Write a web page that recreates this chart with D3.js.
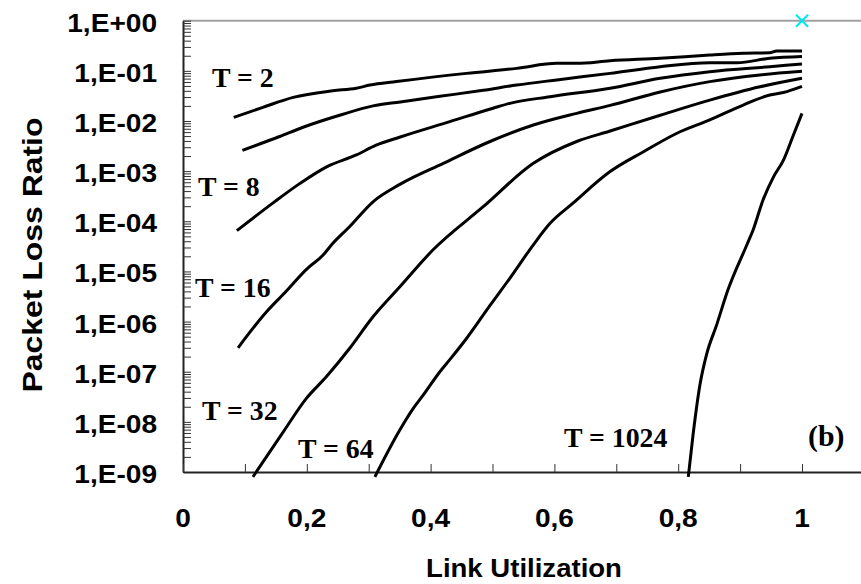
<!DOCTYPE html>
<html>
<head>
<meta charset="utf-8">
<script src="https://cdn.jsdelivr.net/npm/d3@7"></script>
<style>
  body { margin: 0; background: #fff; }
  svg { display: block; }
</style>
</head>
<body>
<svg id="chart" width="861" height="584"></svg>
<script>
// values (link utilization -> packet loss ratio)
var t2_u    = [0.082, 0.129, 0.178, 0.242, 0.280, 0.302, 0.345, 0.458, 0.539, 0.604, 0.636, 0.690, 0.771, 0.851, 0.905, 0.948, 0.959, 1.0];
var t2_plr  = [1.18e-2, 1.87e-2, 2.96e-2, 4.0e-2, 4.5e-2, 5.2e-2, 6.1e-2, 8.9e-2, 0.112, 0.141, 0.141, 0.159, 0.178, 0.207, 0.224, 0.230, 0.249, 0.249];

var t4_u    = [0.096, 0.156, 0.194, 0.253, 0.307, 0.351, 0.415, 0.485, 0.539, 0.604, 0.690, 0.771, 0.851, 0.895, 0.948, 1.0];
var t4_plr  = [2.6e-3, 4.9e-3, 7.5e-3, 1.3e-2, 2.0e-2, 2.4e-2, 3.1e-2, 4.1e-2, 5.2e-2, 6.6e-2, 8.9e-2, 0.121, 0.145, 0.145, 0.178, 0.193];

var t8_u    = [0.087, 0.145, 0.189, 0.232, 0.280, 0.312, 0.351, 0.431, 0.501, 0.528, 0.593, 0.690, 0.771, 0.851, 0.948, 1.0];
var t8_plr  = [6.5e-5, 2.3e-4, 5.7e-4, 1.22e-3, 2.1e-3, 3.3e-3, 4.8e-3, 9.7e-3, 1.8e-2, 2.25e-2, 3.05e-2, 4.5e-2, 7.1e-2, 9.6e-2, 0.121, 0.137];

var t16_u   = [0.089, 0.135, 0.162, 0.202, 0.226, 0.240, 0.269, 0.307, 0.351, 0.4205, 0.496, 0.566, 0.636, 0.690, 0.771, 0.851, 0.932, 1.0];
var t16_plr = [3.0e-7, 1.57e-6, 3.5e-6, 1.18e-5, 2.1e-5, 3.4e-5, 7.8e-5, 2.45e-4, 5.5e-4, 1.43e-3, 3.9e-3, 8.3e-3, 1.42e-2, 2.05e-2, 3.8e-2, 6.1e-2, 8.3e-2, 9.8e-2];

var t32_u   = [0.113, 0.162, 0.199, 0.2315, 0.269, 0.307, 0.350, 0.404, 0.485, 0.566, 0.636, 0.690, 0.771, 0.851, 0.932, 1.0];
var t32_plr = [8.0e-10, 6.3e-9, 2.9e-8, 7.9e-8, 2.9e-7, 1.25e-6, 4.9e-6, 2.7e-5, 1.95e-4, 1.43e-3, 3.9e-3, 6.3e-3, 1.3e-2, 2.6e-2, 4.8e-2, 7.1e-2];

var t64_u   = [0.310, 0.350, 0.372, 0.388, 0.415, 0.431, 0.458, 0.496, 0.528, 0.566, 0.593, 0.630, 0.690, 0.744, 0.798, 0.851, 0.905, 0.948, 0.970, 1.0];
var t64_plr = [8e-10, 6.8e-9, 1.86e-8, 3.4e-8, 1.0e-7, 1.74e-7, 4.6e-7, 2.1e-6, 7.3e-6, 3.4e-5, 9.1e-5, 2.3e-4, 9.8e-4, 2.44e-3, 5.7e-3, 1.05e-2, 2.08e-2, 3.3e-2, 3.7e-2, 4.9e-2];

var t1024_u   = [0.8163, 0.8244, 0.835, 0.846, 0.862, 0.880, 0.911, 0.921, 0.937, 0.954, 0.970, 0.986, 1.0];
var t1024_plr = [8e-10, 6.1e-9, 5.4e-8, 2.25e-7, 8.5e-7, 4.15e-6, 3.4e-5, 6.7e-5, 2.65e-4, 7.7e-4, 1.66e-3, 5.2e-3, 1.42e-2];

var marker_u   = [1.0];
var marker_plr = [1.0];

var xTickLabels = ["0", "0,2", "0,4", "0,6", "0,8", "1"];
var yTickLabels = ["1,E-09", "1,E-08", "1,E-07", "1,E-06", "1,E-05", "1,E-04", "1,E-03", "1,E-02", "1,E-01", "1,E+00"];

function draw() {
    var svg = d3.select("#chart");
    var sx = 1.08; // the picture's text is a bit wide

    var plotLeft = 183, plotTop = 20.7, plotBottom = 472;
    var x = d3.scaleLinear().domain([0, 1.2]).range([plotLeft, plotLeft + 1.2 * 619]);
    var y = d3.scaleLog().domain([1e-9, 1]).range([plotBottom, plotTop]);

    // top gray border line
    svg.append("line")
       .attr("x1", plotLeft).attr("x2", 861)
       .attr("y1", y(1)).attr("y2", y(1))
       .attr("stroke", "#a0a0a0").attr("stroke-width", 2);

    // y minor ticks (log), inward
    var yMinor = [];
    for (var e = -9; e < 0; e++) {
        for (var m = 1; m < 10; m++) yMinor.push(m * Math.pow(10, e));
    }
    yMinor.push(1);
    svg.append("g")
       .attr("transform", "translate(" + plotLeft + ",0)")
       .call(d3.axisLeft(y).tickValues(yMinor).tickSize(-8).tickSizeOuter(0).tickFormat(""))
       .call(function(g) {
           g.select(".domain").attr("stroke", "#222").attr("stroke-width", 2);
           g.selectAll(".tick line").attr("stroke", "#333");
       });

    // x ticks every 0.1, inward
    svg.append("g")
       .attr("transform", "translate(0," + plotBottom + ")")
       .call(d3.axisBottom(x).tickValues(d3.range(0, 1.21, 0.1)).tickSize(-8).tickSizeOuter(0).tickFormat(""))
       .call(function(g) {
           g.select(".domain").attr("stroke", "#222").attr("stroke-width", 2);
           g.selectAll(".tick line").attr("stroke", "#333");
       });

    // tick labels
    var yDecades = d3.range(-9, 1);
    svg.selectAll(".ylab").data(yDecades).enter().append("text")
       .attr("class", "ylab")
       .attr("transform", function(d) { return "translate(157," + (y(Math.pow(10, d)) + 11) + ") scale(" + sx + ",1)"; })
       .attr("text-anchor", "end")
       .style("font-family", "Liberation Sans, Arial, sans-serif")
       .style("font-weight", "bold").style("font-size", "26px")
       .text(function(d, i) { return yTickLabels[i]; });

    var xMajor = [0, 0.2, 0.4, 0.6, 0.8, 1.0];
    svg.selectAll(".xlab").data(xMajor).enter().append("text")
       .attr("class", "xlab")
       .attr("transform", function(d) { return "translate(" + x(d) + ",527) scale(" + sx + ",1)"; })
       .attr("text-anchor", "middle")
       .style("font-family", "Liberation Sans, Arial, sans-serif")
       .style("font-weight", "bold").style("font-size", "26px")
       .text(function(d, i) { return xTickLabels[i]; });

    // axis titles
    svg.append("text")
       .attr("transform", "translate(524,577) scale(1.06,1)")
       .attr("text-anchor", "middle")
       .style("font-family", "Liberation Sans, Arial, sans-serif")
       .style("font-weight", "bold").style("font-size", "26px")
       .text("Link Utilization");

    svg.append("text")
       .attr("transform", "translate(42,255) rotate(-90) scale(1.14,1)")
       .attr("text-anchor", "middle")
       .style("font-family", "Liberation Sans, Arial, sans-serif")
       .style("font-weight", "bold").style("font-size", "28px")
       .text("Packet Loss Ratio");

    // curves
    var series = [
        [t2_u, t2_plr], [t4_u, t4_plr], [t8_u, t8_plr], [t16_u, t16_plr],
        [t32_u, t32_plr], [t64_u, t64_plr], [t1024_u, t1024_plr]
    ];
    var line = d3.line()
        .x(function(d) { return x(d[0]); })
        .y(function(d) { return y(d[1]); })
        .curve(d3.curveMonotoneX);

    svg.selectAll(".curve").data(series).enter().append("path")
       .attr("class", "curve")
       .attr("d", function(s) { return line(d3.zip(s[0], s[1])); })
       .attr("fill", "none")
       .attr("stroke", "#000")
       .attr("stroke-width", 3)
       .attr("stroke-linejoin", "round");

    // cyan x marker
    svg.selectAll(".mark").data(d3.zip(marker_u, marker_plr)).enter().append("path")
       .attr("class", "mark")
       .attr("transform", function(d) { return "translate(" + x(d[0]) + "," + y(d[1]) + ")"; })
       .attr("d", "M-6,-6L6,6M-6,6L6,-6")
       .attr("stroke", "#00e8f0").attr("stroke-width", 2);

    // curve labels
    var labels = [
        { t: "T = 2",    x: 212, y: 87,  size: 27 },
        { t: "T = 8",    x: 198, y: 196, size: 27 },
        { t: "T = 16",   x: 195, y: 297, size: 27 },
        { t: "T = 32",   x: 202, y: 420, size: 27 },
        { t: "T = 64",   x: 298, y: 458, size: 27 },
        { t: "T = 1024", x: 564, y: 447, size: 27 },
        { t: "(b)",      x: 808, y: 446, size: 29 }
    ];
    svg.selectAll(".tlab").data(labels).enter().append("text")
       .attr("class", "tlab")
       .attr("transform", function(d) { return "translate(" + d.x + "," + d.y + ") scale(1.03,1)"; })
       .style("font-family", "Liberation Serif, Times New Roman, serif")
       .style("font-weight", "bold")
       .style("font-size", function(d) { return d.size + "px"; })
       .text(function(d) { return d.t; });
}

draw();
</script>
</body>
</html>
